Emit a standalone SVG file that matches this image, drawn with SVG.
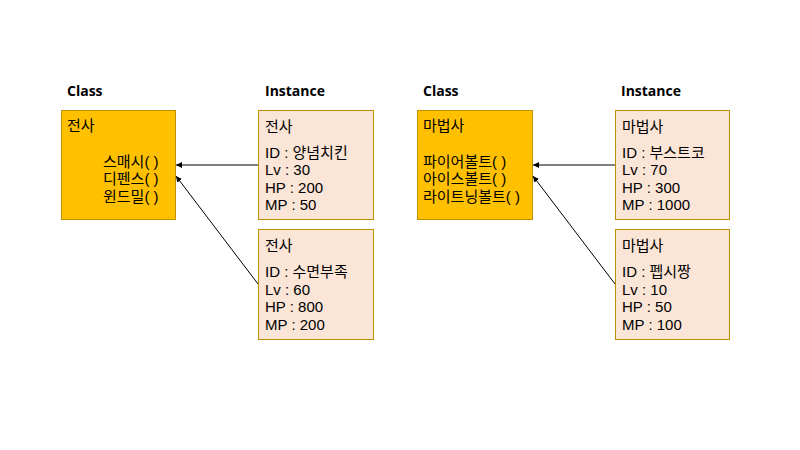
<svg xmlns="http://www.w3.org/2000/svg" width="800" height="450" viewBox="0 0 800 450">
<defs>
<style>
text{font-family:"Liberation Sans","Noto Sans CJK KR",sans-serif;font-size:15px;fill:#000;dominant-baseline:central}
.h{font-family:"Open Sans","Noto Sans",sans-serif;font-weight:bold;font-size:14px}
.cls{fill:#FFC000;stroke:#BF9000;stroke-width:1}
.ins{fill:#FBE5D6;stroke:#BF9000;stroke-width:1}
.con{stroke:#000;stroke-width:1;fill:none;marker-end:url(#ah)}
</style>
<marker id="ah" viewBox="0 0 10 10" refX="10" refY="5" markerWidth="6" markerHeight="6" markerUnits="userSpaceOnUse" orient="auto">
<path d="M0,0 L10,5 L0,10 z" fill="#000"/>
</marker>
</defs>
<rect width="800" height="450" fill="#fff"/>
<text class="h" x="67" y="90">Class</text>
<text class="h" x="265" y="90">Instance</text>
<text class="h" x="423" y="90">Class</text>
<text class="h" x="621" y="90">Instance</text>
<g id="class-warrior">
<rect class="cls" x="61.5" y="110.5" width="114" height="109"/>
<text x="67" y="125">전사</text>
<text x="103" y="161">스매시( )</text>
<text x="103" y="178.5">디펜스( )</text>
<text x="103" y="196">윈드밀( )</text>
</g>
<g id="inst-warrior-1">
<rect class="ins" x="258.5" y="110.5" width="115" height="109"/>
<text x="265" y="126">전사</text>
<text x="265" y="152">ID : 양념치킨</text>
<text x="265" y="169.5">Lv : 30</text>
<text x="265" y="187">HP : 200</text>
<text x="265" y="204.5">MP : 50</text>
</g>
<g id="inst-warrior-2">
<rect class="ins" x="258.5" y="229.5" width="115" height="110"/>
<text x="265" y="245">전사</text>
<text x="265" y="271">ID : 수면부족</text>
<text x="265" y="289">Lv : 60</text>
<text x="265" y="306.5">HP : 800</text>
<text x="265" y="324">MP : 200</text>
</g>
<g id="class-mage">
<rect class="cls" x="417.5" y="110.5" width="115" height="109"/>
<text x="423" y="125">마법사</text>
<text x="423" y="161">파이어볼트( )</text>
<text x="423" y="178.5">아이스볼트( )</text>
<text x="423" y="196">라이트닝볼트( )</text>
</g>
<g id="inst-mage-1">
<rect class="ins" x="615.5" y="110.5" width="114" height="109"/>
<text x="622" y="126">마법사</text>
<text x="622" y="152">ID : 부스트코</text>
<text x="622" y="169.5">Lv : 70</text>
<text x="622" y="187">HP : 300</text>
<text x="622" y="204.5">MP : 1000</text>
</g>
<g id="inst-mage-2">
<rect class="ins" x="615.5" y="229.5" width="114" height="110"/>
<text x="622" y="245">마법사</text>
<text x="622" y="271">ID : 펩시짱</text>
<text x="622" y="289">Lv : 10</text>
<text x="622" y="306.5">HP : 50</text>
<text x="622" y="324">MP : 100</text>
</g>
<g id="connectors">
<line class="con" x1="258" y1="165" x2="176" y2="165"/>
<line class="con" x1="258" y1="284" x2="176" y2="176"/>
<line class="con" x1="615" y1="165" x2="533" y2="165"/>
<line class="con" x1="615" y1="284" x2="533" y2="176"/>
</g>
</svg>
